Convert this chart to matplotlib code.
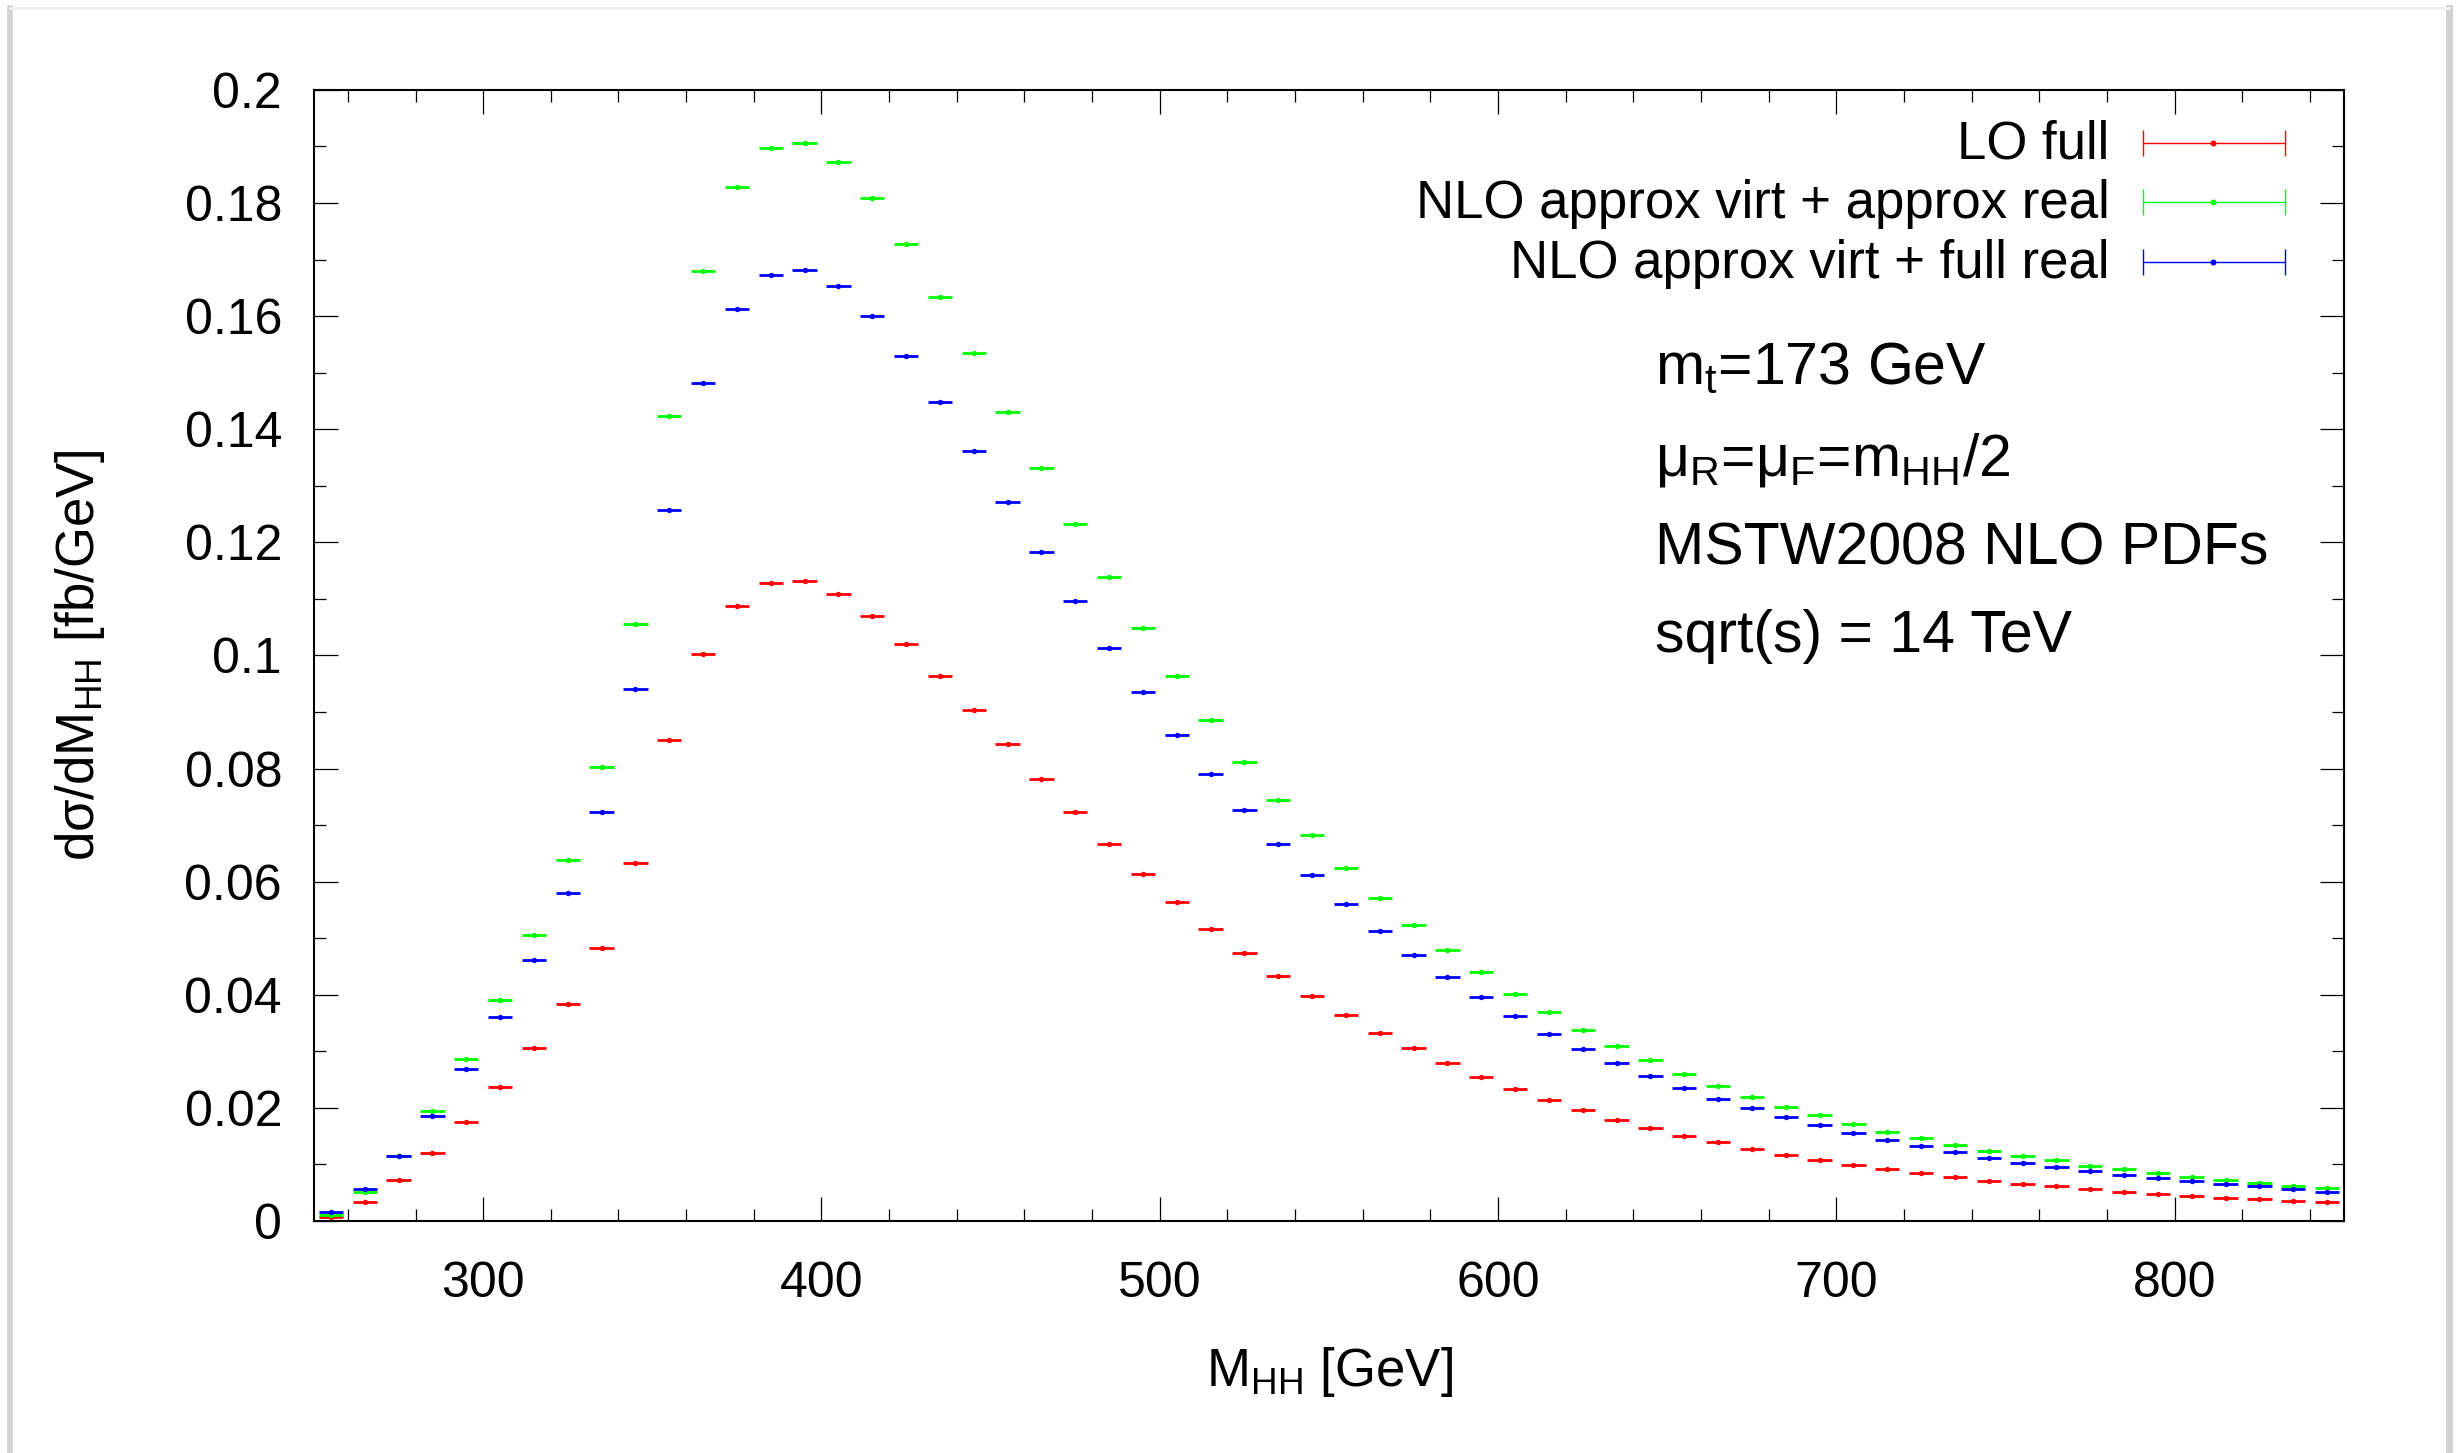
import matplotlib
matplotlib.use("Agg")
import matplotlib.pyplot as plt
from matplotlib.ticker import MultipleLocator, FormatStrFormatter
from matplotlib.lines import Line2D

plt.rcParams['font.family'] = ['Liberation Sans', 'DejaVu Sans']
plt.rcParams['mathtext.fontset'] = 'custom'
plt.rcParams['mathtext.rm'] = 'Liberation Sans'
plt.rcParams['mathtext.it'] = 'Liberation Sans:italic'
plt.rcParams['mathtext.bf'] = 'Liberation Sans:bold'

# bin centres [GeV], 10 GeV bins
m_hh = list(range(255, 850, 10))

# LO full
lo_full = [0.0007, 0.0033, 0.0072, 0.0120, 0.0175, 0.0237, 0.0306, 0.0384, 0.0482, 0.0633,
           0.0850, 0.1002, 0.1088, 0.1128, 0.1131, 0.1109, 0.1069, 0.1020, 0.0964, 0.0903,
           0.0843, 0.0781, 0.0723, 0.0667, 0.0614, 0.0564, 0.0517, 0.0474, 0.0434, 0.0398,
           0.0364, 0.0333, 0.0305, 0.0279, 0.0255, 0.0234, 0.0214, 0.0196, 0.0179, 0.0164,
           0.0151, 0.0139, 0.0127, 0.0117, 0.0108, 0.0099, 0.0091, 0.0084, 0.0077, 0.0071,
           0.0065, 0.0061, 0.0057, 0.0052, 0.0048, 0.0045, 0.0041, 0.0039, 0.0035, 0.0033]

# NLO approx virt + approx real
nlo_approx = [0.0010, 0.0052, 0.0115, 0.0195, 0.0287, 0.0390, 0.0506, 0.0639, 0.0803, 0.1056,
              0.1423, 0.1680, 0.1829, 0.1898, 0.1906, 0.1872, 0.1809, 0.1728, 0.1634, 0.1534,
              0.1431, 0.1331, 0.1232, 0.1138, 0.1048, 0.0964, 0.0885, 0.0811, 0.0744, 0.0682,
              0.0624, 0.0571, 0.0523, 0.0480, 0.0440, 0.0402, 0.0369, 0.0337, 0.0309, 0.0284,
              0.0260, 0.0239, 0.0220, 0.0202, 0.0187, 0.0172, 0.0157, 0.0146, 0.0134, 0.0124,
              0.0115, 0.0107, 0.0098, 0.0091, 0.0084, 0.0078, 0.0072, 0.0068, 0.0062, 0.0058]

# NLO approx virt + full real
nlo_full = [0.0016, 0.0057, 0.0115, 0.0186, 0.0268, 0.0361, 0.0462, 0.0580, 0.0724, 0.0941,
            0.1257, 0.1482, 0.1612, 0.1673, 0.1682, 0.1654, 0.1600, 0.1529, 0.1448, 0.1361,
            0.1272, 0.1183, 0.1097, 0.1014, 0.0935, 0.0860, 0.0791, 0.0726, 0.0666, 0.0611,
            0.0560, 0.0513, 0.0470, 0.0431, 0.0396, 0.0362, 0.0331, 0.0304, 0.0279, 0.0256,
            0.0235, 0.0216, 0.0199, 0.0183, 0.0169, 0.0155, 0.0143, 0.0132, 0.0122, 0.0112,
            0.0103, 0.0095, 0.0089, 0.0082, 0.0076, 0.0071, 0.0065, 0.0061, 0.0056, 0.0052]

series = [("LO full", lo_full, "#ff0000"),
          ("NLO approx virt + approx real", nlo_approx, "#00ff00"),
          ("NLO approx virt + full real", nlo_full, "#0000ff")]

info_lines = ["m$_\\mathrm{t}$=173 GeV",
              "μ$_\\mathrm{R}$=μ$_\\mathrm{F}$=m$_\\mathrm{HH}$/2",
              "MSTW2008 NLO PDFs",
              "sqrt(s) = 14 TeV"]

fig = plt.figure(figsize=(24.59, 14.53), dpi=100)
ax = fig.add_axes([0.1277, 0.1597, 0.8255, 0.7784])

for label, vals, col in series:
    ax.errorbar(m_hh, vals, xerr=3.6, fmt='o', ms=3.9, color=col, ecolor=col,
                elinewidth=2.0, capsize=0, mew=0)

ax.set_xlim(250, 850)
ax.set_ylim(0, 0.2)
ax.xaxis.set_major_locator(MultipleLocator(100))
ax.xaxis.set_minor_locator(MultipleLocator(20))
ax.yaxis.set_major_locator(MultipleLocator(0.02))
ax.yaxis.set_minor_locator(MultipleLocator(0.01))
ax.yaxis.set_major_formatter(FormatStrFormatter('%g'))
ax.tick_params(which='both', direction='in', top=True, right=True, labelsize=36)
ax.tick_params(which='major', length=17, width=0.9)
ax.tick_params(which='minor', length=8.5, width=0.9)
ax.tick_params(axis='y', pad=23)
ax.tick_params(axis='x', pad=29)
for sp in ax.spines.values():
    sp.set_linewidth(1.5)

ax.set_xlabel("M$_\\mathrm{HH}$ [GeV]", fontsize=38, va='baseline')
ax.xaxis.set_label_coords(0.5, -0.1459)
ax.set_ylabel("dσ/dM$_\\mathrm{HH}$ [fb/GeV]", fontsize=38, va='center')
ax.yaxis.set_label_coords(-0.1153, 0.5)

# key, drawn in axes fractions
row_y = [0.9531, 0.9005, 0.8479]
for (label, vals, col), yy in zip(series, row_y):
    ax.text(0.8845, yy - 0.0141, label, transform=ax.transAxes, ha='right',
            va='baseline', fontsize=38)
    ax.plot([0.9010, 0.9709], [yy, yy], color=col, lw=1.0, transform=ax.transAxes,
            clip_on=False)
    ax.plot([0.9010, 0.9709], [yy, yy], ls='none', marker='|', ms=18.5, mew=1.0,
            color=col, transform=ax.transAxes, clip_on=False)
    ax.plot([0.9355], [yy], ls='none', marker='o', ms=4.3, mew=0, color=col,
            transform=ax.transAxes, clip_on=False)

for txt, yy in zip(info_lines, [0.740, 0.6587, 0.580, 0.503]):
    ax.text(0.6606, yy, txt, transform=ax.transAxes, ha='left', va='baseline',
            fontsize=42.5)

# light frame around the picture
fig.add_artist(Line2D([10 / 2459, 10 / 2459], [0, 1 - 8 / 1453], color='#d2d2d2',
                      lw=4, transform=fig.transFigure))
fig.add_artist(Line2D([2449 / 2459, 2449 / 2459], [0, 1 - 8 / 1453], color='#d2d2d2',
                      lw=5, transform=fig.transFigure))
fig.add_artist(Line2D([10 / 2459, 2449 / 2459], [1 - 8 / 1453, 1 - 8 / 1453],
                      color='#f0f0f0', lw=2, transform=fig.transFigure))

fig.savefig("out.png", dpi=100)
